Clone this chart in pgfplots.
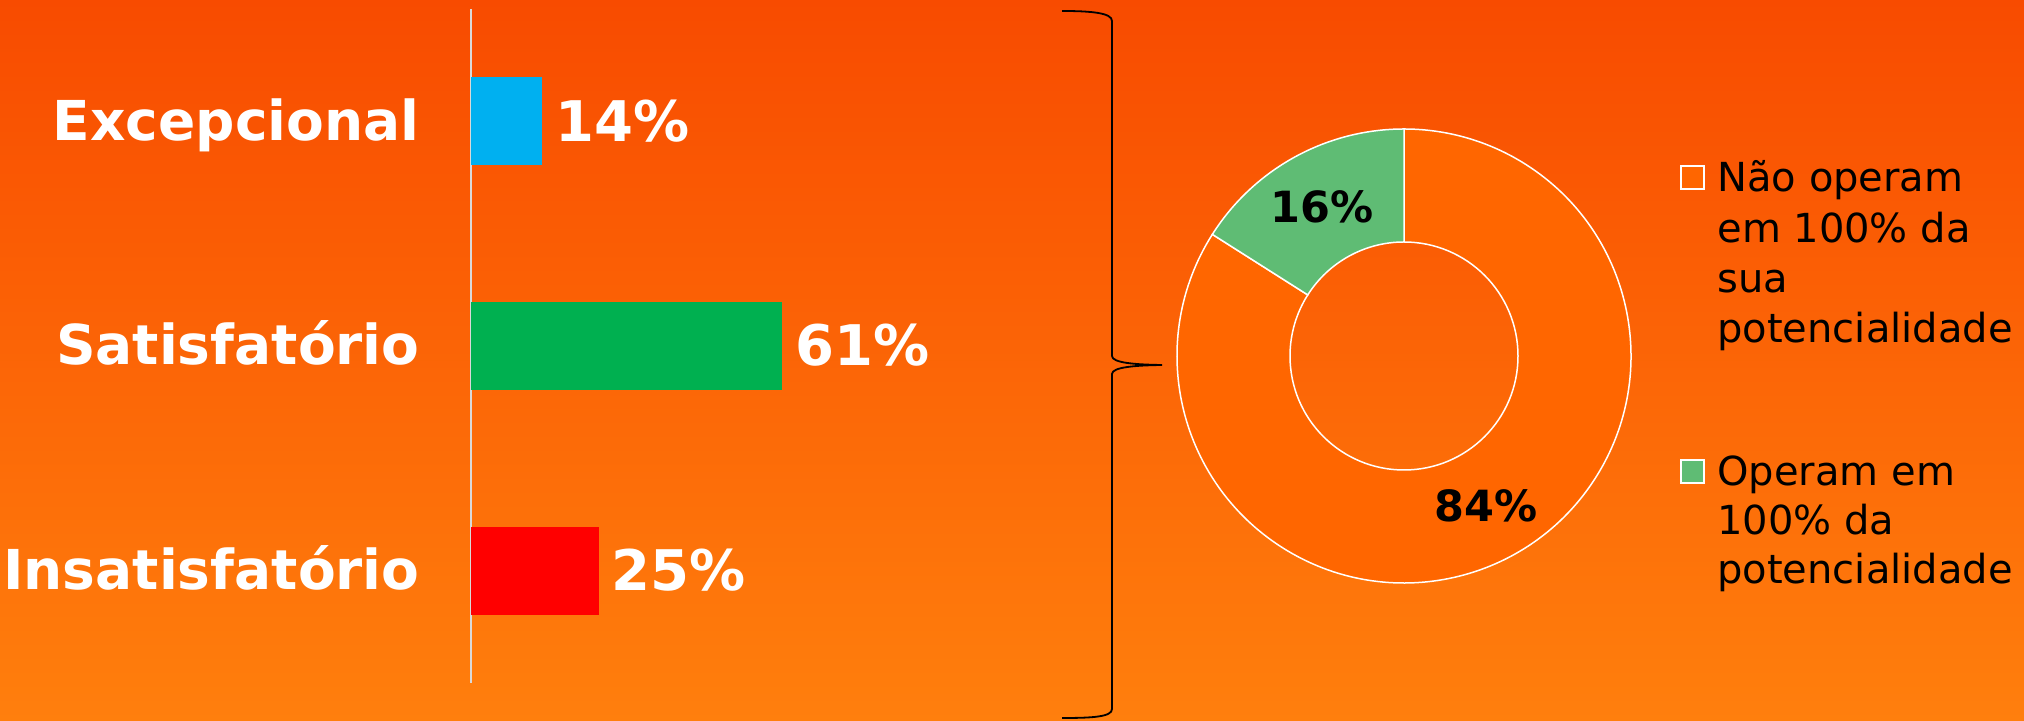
\documentclass[border=0pt]{standalone}
\usepackage{pgfplots}
\pgfplotsset{compat=1.18}
\usepackage{pgfplotstable}
\usepackage{fontspec}
\setmainfont{DejaVu Sans}
\pgfplotsset{/pgf/number format/assume math mode=true}
\definecolor{bgtop}{HTML}{F84B00}
\definecolor{bgbot}{HTML}{FF7F0D}
\definecolor{barblue}{HTML}{00B0F0}
\definecolor{bargreen}{HTML}{00B050}
\definecolor{barred}{HTML}{FF0000}
\definecolor{donutorange}{HTML}{FF6600}
\definecolor{donutgreen}{HTML}{5FBC74}
\definecolor{axisgray}{HTML}{D9D9D9}
\pgfplotstableread{
share
84
16
}\donutdata
\begin{document}%
\pgfplotstablegetelem{0}{share}\of\donutdata\let\shareA\pgfplotsretval%
\pgfplotstablegetelem{1}{share}\of\donutdata\let\shareB\pgfplotsretval%
\pgfmathsetmacro\angB{90+3.6*\shareB}%
\pgfmathsetmacro\midB{90+1.8*\shareB}%
\pgfmathsetmacro\midA{\angB+1.8*\shareA}%
\begin{tikzpicture}
\shade[top color=bgtop, bottom color=bgbot] (0,0) rectangle (1012pt,360.5pt);

\begin{axis}[
  at={(235.5pt,19pt)}, anchor=south west,
  scale only axis, width=255pt, height=337pt,
  xbar, bar width=44pt, bar shift=0pt,
  xmin=0, xmax=100, ymin=-0.5, ymax=2.5,
  axis x line=none, axis y line=left,
  y axis line style={-, draw=axisgray, line width=1pt},
  xtick=\empty, ytick={0,1,2},
  yticklabels={Insatisfatório,Satisfatório,Excepcional},
  major tick length=0pt,
  yticklabel style={font=\fontsize{27.5}{33}\selectfont\bfseries, text=white, anchor=base east, inner sep=0pt, xshift=-25.5pt, yshift=-9.5pt},
  point meta=x,
  nodes near coords={\pgfmathprintnumber{\pgfplotspointmeta}\%},
  every node near coord/.append style={font=\fontsize{28}{33}\selectfont\bfseries, text=white, anchor=base west, inner sep=0pt, xshift=6.5pt, yshift=-10pt},
  clip=false,
]
\addplot[fill=barred, draw=none] coordinates {(25,0)};
\addplot[fill=bargreen, draw=none] coordinates {(61,1)};
\addplot[fill=barblue, draw=none] coordinates {(14,2)};
\end{axis}

\begin{axis}[
  at={(702pt,182.5pt)}, anchor=center,
  x=1pt, y=1pt, xmin=-120, xmax=120, ymin=-120, ymax=120,
  hide axis, clip=false,
]
\filldraw[fill=donutorange, draw=white, line width=0.75pt]
  (axis cs:{113.5*cos(\angB)},{113.5*sin(\angB)}) arc[start angle=\angB, end angle=450, radius=113.5pt]
  -- (axis cs:0,57) arc[start angle=450, end angle=\angB, radius=57pt] -- cycle;
\filldraw[fill=donutgreen, draw=white, line width=0.75pt]
  (axis cs:0,113.5) arc[start angle=90, end angle=\angB, radius=113.5pt]
  -- (axis cs:{57*cos(\angB)},{57*sin(\angB)}) arc[start angle=\angB, end angle=90, radius=57pt] -- cycle;
\node[font=\fontsize{21.5}{25}\selectfont\bfseries, text=black] at (axis cs:{85.25*cos(\midB)},{85.25*sin(\midB)}) {\shareB\%};
\node[font=\fontsize{21.5}{25}\selectfont\bfseries, text=black] at (axis cs:{85.25*cos(\midA)},{85.25*sin(\midA)}) {\shareA\%};
\end{axis}

% brace
\draw[black, line width=0.9pt]
  (531pt,355pt) .. controls (546pt,355pt) and (556pt,354pt) .. (556pt,350pt)
  -- (556pt,182.5pt) .. controls (556pt,179pt) and (568pt,178.2pt) .. (581pt,178pt)
  .. controls (568pt,177.8pt) and (556pt,177pt) .. (556pt,173.5pt)
  -- (556pt,6pt) .. controls (556pt,2pt) and (546pt,1.5pt) .. (531pt,1.5pt);

% legend
\draw[white, fill=donutorange, line width=0.75pt] (840.5pt,266pt) rectangle (852pt,277.5pt);
\draw[white, fill=donutgreen, line width=0.75pt] (840.5pt,119pt) rectangle (852pt,130.5pt);
\begin{scope}[every node/.style={font=\fontsize{20}{25}\selectfont, text=black, anchor=base west, inner sep=0pt}]
\node at (858.5pt,264.5pt) {Não operam};
\node at (858.5pt,239.4pt) {em 100\% da};
\node at (858.5pt,214.3pt) {sua};
\node at (858.5pt,189.2pt) {potencialidade};
\node at (858.5pt,117.5pt) {Operam em};
\node at (858.5pt,93pt) {100\% da};
\node at (858.5pt,68.5pt) {potencialidade};
\end{scope}
\pgfresetboundingbox
\path[use as bounding box] (0,0) rectangle (1012pt,360.5pt);
\end{tikzpicture}%
\end{document}
